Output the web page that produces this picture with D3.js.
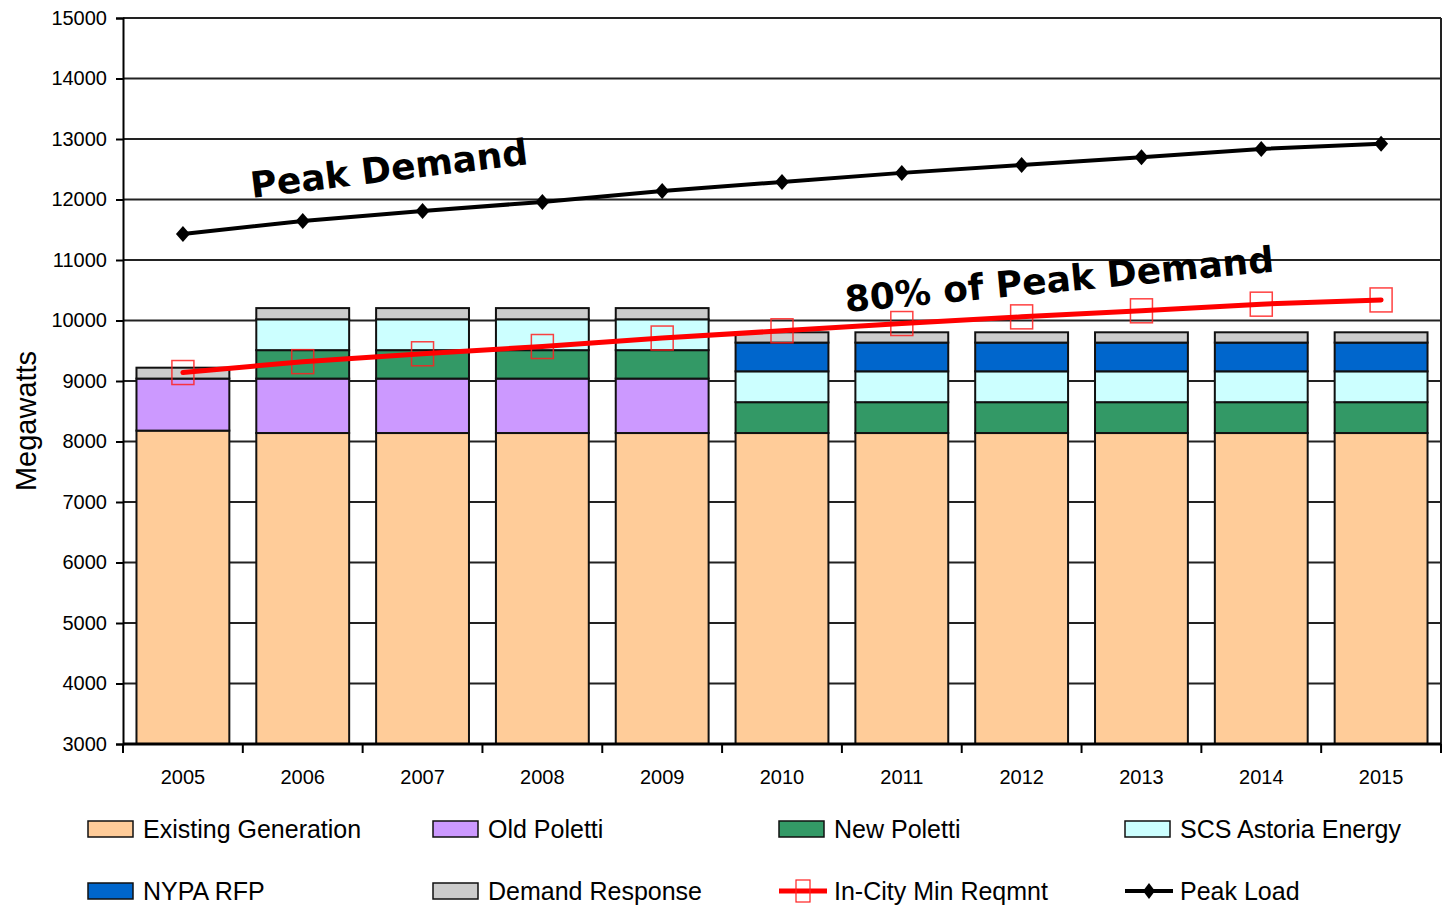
<html>

<script src="https://d3js.org/d3.v7.min.js"></script>

<style>
    body { margin: 0; background: white; }
    svg { font-family: Arial, "Liberation Sans", sans-serif; }
    .grid line { stroke: #222; stroke-width: 2px; }
    .bar { stroke: #111; stroke-width: 2px; }
    .axis text { font-size: 20px; fill: #000; }
    .axis path, .axis line { stroke: #000; stroke-width: 2px; }
    .note { font-family: Verdana, "DejaVu Sans", sans-serif; font-weight: bold; font-size: 36px; }
    .legend text { font-size: 25px; }
</style>

<svg width=1443 height=907></svg>

<script>

    // data
    let years = ['2005', '2006', '2007', '2008', '2009', '2010', '2011', '2012', '2013', '2014', '2015'];

    let existingGen = [8180, 8140, 8140, 8140, 8140, 8140, 8140, 8140, 8140, 8140, 8140];
    let oldPoletti  = [860, 900, 900, 900, 900, 0, 0, 0, 0, 0, 0];
    let newPoletti  = [0, 470, 470, 470, 470, 510, 510, 510, 510, 510, 510];
    let scsAstoria  = [0, 510, 510, 510, 510, 510, 510, 510, 510, 510, 510];
    let nypaRfp     = [0, 0, 0, 0, 0, 475, 475, 475, 475, 475, 475];
    let demandResp  = [180, 185, 185, 185, 185, 170, 170, 170, 170, 170, 170];

    let inCityMin = [9140, 9320, 9450, 9570, 9710, 9830, 9950, 10060, 10160, 10270, 10340];
    let peakLoad  = [11430, 11645, 11810, 11960, 12140, 12290, 12440, 12570, 12700, 12835, 12920];

    let yTicks = [3000, 4000, 5000, 6000, 7000, 8000, 9000, 10000, 11000, 12000, 13000, 14000, 15000];

    let stackSeries = [
        { name: 'Existing Generation', values: existingGen, color: '#FFCC99' },
        { name: 'Old Poletti',         values: oldPoletti,  color: '#CC99FF' },
        { name: 'New Poletti',         values: newPoletti,  color: '#339966' },
        { name: 'SCS Astoria Energy',  values: scsAstoria,  color: '#CCFFFF' },
        { name: 'NYPA RFP',            values: nypaRfp,     color: '#0066CC' },
        { name: 'Demand Response',     values: demandResp,  color: '#CCCCCC' }
    ];

    let svg = d3.select('svg'),
        margin = { top: 18, right: 2, bottom: 163, left: 123 },
        width = +svg.attr('width') - margin.left - margin.right,
        height = +svg.attr('height') - margin.top - margin.bottom;

    let g = svg.append('g')
        .attr('transform', 'translate(' + margin.left + ',' + margin.top + ')');

    let x = d3.scaleBand()
        .domain(years)
        .range([0, width])
        .paddingInner(0.225)
        .paddingOuter(0.1125);

    let y = d3.scaleLinear()
        .domain([3000, 15000])
        .range([height, 0])
        .clamp(true);

    // gridlines
    g.append('g')
        .attr('class', 'grid')
      .selectAll('line')
      .data(yTicks.slice(1))
      .enter().append('line')
        .attr('x1', 0)
        .attr('x2', width)
        .attr('y1', d => y(d))
        .attr('y2', d => y(d));

    // right border of the plot
    g.append('line')
        .attr('x1', width).attr('x2', width)
        .attr('y1', 0).attr('y2', height)
        .attr('stroke', '#222').attr('stroke-width', 2);

    // stacked bars
    let rows = years.map((yr, i) => {
        let r = { year: yr };
        stackSeries.forEach(s => r[s.name] = s.values[i]);
        return r;
    });
    let stacked = d3.stack().keys(stackSeries.map(s => s.name))(rows);

    g.selectAll('.layer')
        .data(stacked)
        .enter().append('g')
        .attr('class', 'layer')
        .attr('fill', (d, i) => stackSeries[i].color)
      .selectAll('rect')
      .data(d => d.filter(p => p[1] - p[0] > 0))
      .enter().append('rect')
        .attr('class', 'bar')
        .attr('x', d => x(d.data.year))
        .attr('width', x.bandwidth())
        .attr('y', d => y(d[1]))
        .attr('height', d => y(d[0]) - y(d[1]));

    // axes
    g.append('g')
        .attr('class', 'axis')
        .call(d3.axisLeft(y).tickValues(yTicks).tickSize(7).tickPadding(9).tickFormat(d3.format('d')));

    let xAxis = g.append('g')
        .attr('class', 'axis')
        .attr('transform', 'translate(0,' + height + ')')
        .call(d3.axisBottom(x).tickSize(0).tickPadding(26));
    xAxis.select('.domain').remove();

    g.append('line')
        .attr('x1', 0).attr('x2', width)
        .attr('y1', height).attr('y2', height)
        .attr('stroke', '#000').attr('stroke-width', 3);

    // category dividers on the x axis
    let gap = x.step() - x.bandwidth();
    g.append('g')
      .selectAll('line')
      .data(years.map(d => x(d) - gap / 2).concat([width]))
      .enter().append('line')
        .attr('x1', d => d)
        .attr('x2', d => d)
        .attr('y1', height)
        .attr('y2', height + 9)
        .attr('stroke', '#000').attr('stroke-width', 2);

    // y label
    svg.append('text')
        .attr('transform', 'translate(36,421) rotate(-90)')
        .attr('text-anchor', 'middle')
        .style('font-size', '29px')
        .text('Megawatts');

    let cx = d => x(d) + x.bandwidth() / 2;

    // peak load line
    let line = d3.line()
        .x((d, i) => cx(years[i]))
        .y(d => y(d));

    g.append('path')
        .attr('d', line(peakLoad))
        .attr('fill', 'none')
        .attr('stroke', '#000')
        .attr('stroke-width', 4);

    g.selectAll('.diamond')
        .data(peakLoad)
        .enter().append('path')
        .attr('class', 'diamond')
        .attr('d', 'M0,-8L7,0L0,8L-7,0Z')
        .attr('transform', (d, i) => 'translate(' + cx(years[i]) + ',' + y(d) + ')')
        .attr('fill', '#000');

    // in-city minimum requirement
    g.selectAll('.sq')
        .data(inCityMin)
        .enter().append('rect')
        .attr('class', 'sq')
        .attr('x', (d, i) => cx(years[i]) - 11)
        .attr('y', d => y(d) - 12)
        .attr('width', 22)
        .attr('height', 24)
        .attr('fill', 'none')
        .attr('stroke', '#ff2020')
        .attr('stroke-width', 1.5)
        .attr('opacity', 0.85);

    g.append('path')
        .attr('d', line(inCityMin))
        .attr('fill', 'none')
        .attr('stroke', '#ff0000')
        .attr('stroke-width', 5)
        .attr('stroke-linecap', 'round');

    // annotations
    svg.append('text')
        .attr('class', 'note')
        .attr('transform', 'translate(252,198) rotate(-7)')
        .text('Peak Demand');

    svg.append('text')
        .attr('class', 'note')
        .attr('transform', 'translate(846,312) rotate(-5.4)')
        .text('80% of Peak Demand');

    // legend
    let legendItems = stackSeries.map(s => ({ name: s.name, color: s.color, type: 'box' }))
        .concat([
            { name: 'In-City Min Reqmnt', color: '#ff0000', type: 'square' },
            { name: 'Peak Load', color: '#000', type: 'diamond' }
        ]);
    let legendCols = [88, 433, 779, 1125],
        legendRows = [829, 891];

    let legend = svg.append('g')
        .attr('class', 'legend')
      .selectAll('g')
      .data(legendItems)
      .enter().append('g')
        .attr('transform', (d, i) => 'translate(' + legendCols[i % 4] + ',' + legendRows[Math.floor(i / 4)] + ')');

    legend.filter(d => d.type === 'box').append('rect')
        .attr('x', 0).attr('y', -8)
        .attr('width', 45).attr('height', 16)
        .attr('fill', d => d.color)
        .attr('stroke', '#111').attr('stroke-width', 1.5);

    legend.filter(d => d.type !== 'box').append('line')
        .attr('x1', 0).attr('x2', 48)
        .attr('y1', 0).attr('y2', 0)
        .attr('stroke', d => d.color)
        .attr('stroke-width', d => d.type === 'square' ? 5 : 4);

    legend.filter(d => d.type === 'square').append('rect')
        .attr('x', 17).attr('y', -11)
        .attr('width', 14).attr('height', 22)
        .attr('fill', 'none')
        .attr('stroke', '#ff2020').attr('stroke-width', 1.2);

    legend.filter(d => d.type === 'diamond').append('path')
        .attr('d', 'M24,-8L30,0L24,8L18,0Z')
        .attr('fill', '#000');

    legend.append('text')
        .attr('x', 55)
        .attr('y', 9)
        .text(d => d.name);

</script>
</html>
